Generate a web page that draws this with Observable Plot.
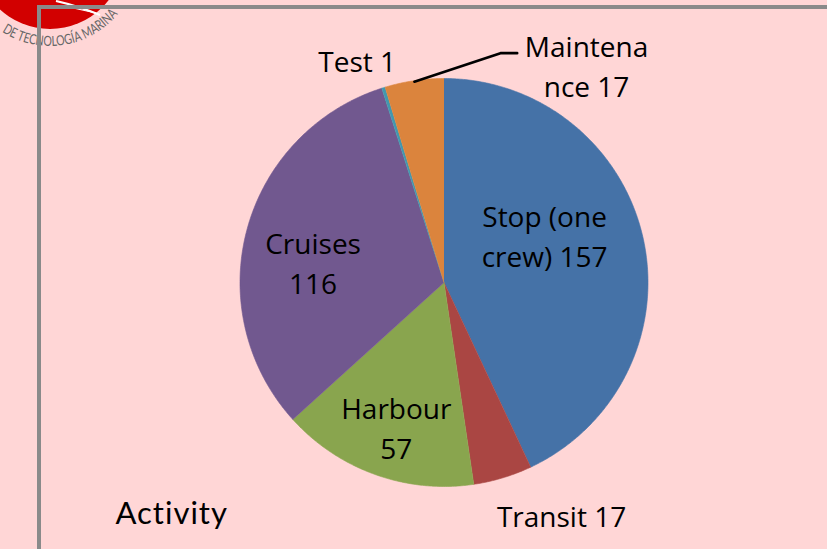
<!DOCTYPE html>
<html><head><meta charset="utf-8">
<script src="https://cdn.jsdelivr.net/npm/d3@7"></script>
<script src="https://cdn.jsdelivr.net/npm/@observablehq/plot@0.6"></script>
<style>
html,body{margin:0;padding:0;background:#FFD6D6;}
#wrap{position:relative;width:827px;height:549px;overflow:hidden;background:#FFD6D6;}
#chart{position:absolute;left:0;top:0;}
.overlay{position:absolute;left:0;top:0;pointer-events:none;}
</style></head><body>
<div id="wrap">
<div id="chart"></div>
<svg class="overlay" width="827" height="549" xmlns="http://www.w3.org/2000/svg">
  <circle cx="50" cy="-45" r="74" fill="#D20000"/>
  <path d="M56 1 Q78 6 100 15" stroke="#fff" stroke-width="2.2" fill="none"/>
  <path d="M64 6 Q82 10 96 13" stroke="#fff" stroke-width="1.2" fill="none"/>
  <defs><path id="logoArc" d="M 2 31.8 A 88 88 0 0 0 119.3 12.2"/></defs>
  <text font-family="Lato" font-size="14" fill="#666"><textPath href="#logoArc" textLength="128" lengthAdjust="spacingAndGlyphs">DE TECNOLOGÍA MARINA</textPath></text>
  <line x1="39" y1="5" x2="39" y2="549" stroke="#8a8a8a" stroke-width="4"/>
  <line x1="37" y1="7" x2="827" y2="7" stroke="#8a8a8a" stroke-width="4"/>
</svg>
</div>
<script>
// ---- data ----
const categories = ["Stop (one crew)", "Transit", "Harbour", "Cruises", "Test", "Maintenance"];
const values = [157, 17, 57, 116, 1, 17];
const colors = ["#4572A7", "#AA4643", "#89A54E", "#71588F", "#4198AF", "#DB843D"];
const labelWraps = ["Stop (one\ncrew)", "Transit", "Harbour\n", "Cruises\n", "Test", "Maintena\nnce"];
const title = "Activity";

// ---- layout ----
const W = 827, H = 549, CX = 443.5, CY = 282, R = 204;
// [angle shift from slice middle (deg), distance in radii]
const labelLayout = [[-12.9, 0.546], [-10.1, 1.275], [-1.4, 0.743], [-5.9, 0.650], [-4.0, 1.173], [41.5, 1.279]];
const leaderEnd = [-0.340, -0.053], leaderElbow = [-0.422, -0.053];

const arcs = d3.pie().sort(null)(values);
const piePts = [];
arcs.forEach((a, i) => {
  const n = Math.max(2, Math.ceil((a.endAngle - a.startAngle) / (Math.PI / 360)));
  piePts.push({k: i, x: 0, y: 0});
  for (let j = 0; j <= n; j++) {
    const t = a.startAngle + (a.endAngle - a.startAngle) * j / n;
    piePts.push({k: i, x: Math.sin(t), y: -Math.cos(t)});
  }
});
const labels = arcs.map((a, i) => {
  const m = (a.startAngle + a.endAngle) / 2 + labelLayout[i][0] * Math.PI / 180;
  const r = labelLayout[i][1];
  const w = labelWraps[i];
  return {x: r * Math.sin(m), y: -r * Math.cos(m), text: w + (w.endsWith("\n") ? "" : " ") + values[i]};
});
const mi = 5;
const mMid = (arcs[mi].startAngle + arcs[mi].endAngle) / 2;
const leader = [
  {x: 0.995 * Math.sin(mMid), y: -0.995 * Math.cos(mMid)},
  {x: labels[mi].x + leaderElbow[0], y: labels[mi].y + leaderElbow[1]},
  {x: labels[mi].x + leaderEnd[0], y: labels[mi].y + leaderEnd[1]}
];

const chart = Plot.plot({
  width: W, height: H, margin: 0,
  x: {domain: [-CX / R, (W - CX) / R], range: [0, W], axis: null},
  y: {domain: [-CY / R, (H - CY) / R], range: [0, H], axis: null},
  color: {domain: categories, range: colors},
  style: {background: "transparent", overflow: "visible"},
  marks: [
    Plot.line(piePts, {x: "x", y: "y", z: "k", fill: d => categories[d.k], stroke: d => categories[d.k], strokeWidth: 0.6, curve: "linear"}),
    Plot.line(leader, {x: "x", y: "y", stroke: "#000", strokeWidth: 2.6, curve: "linear"}),
    Plot.text(labels, {x: "x", y: "y", text: "text", fill: "#000", fontFamily: "Open Sans", fontSize: 28, lineHeight: 1.43, textAnchor: "middle"}),
    Plot.text([title], {frameAnchor: "bottom-left", lineAnchor: "middle", dx: 115, dy: -35, text: d => d, textAnchor: "start", fill: "#000", fontFamily: "Lato", fontSize: 31})
  ]
});
document.getElementById("chart").appendChild(chart);
d3.select(chart).selectAll("text").filter(function () { return this.textContent === title; }).style("letter-spacing", "1px");
</script>
</body></html>
